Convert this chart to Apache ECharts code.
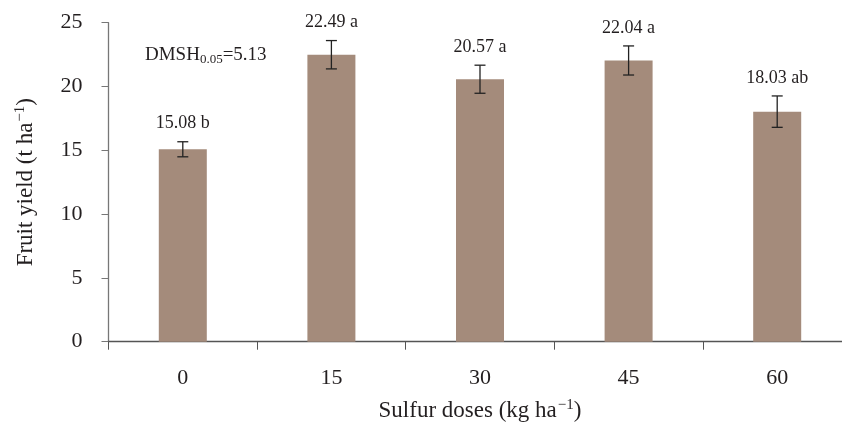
<!DOCTYPE html>
<html>
<head>
<meta charset="utf-8">
<script src="https://cdn.jsdelivr.net/npm/echarts@6/dist/echarts.min.js"></script>
<style>html,body{margin:0;padding:0;background:#fff;overflow:hidden}#c{width:842px;height:425px}</style>
</head>
<body>
<div id="c"></div>
<script>
const categories = ['0', '15', '30', '45', '60'];
const yieldValues = [15.08, 22.49, 20.57, 22.04, 18.03];
const errorValues = [0.59, 1.11, 1.1, 1.14, 1.23];
const letters = ['b', 'a', 'a', 'a', 'ab'];
const yTicks = [0, 5, 10, 15, 20, 25];

const FONT = '"Liberation Serif", "DejaVu Serif", serif';
const TXT = '#231f20';
const BAR = '#a48b7b';

const chart = echarts.init(document.getElementById('c'), null, {renderer: 'canvas'});
chart.setOption({
  animation: false,
  backgroundColor: '#fff',
  textStyle: {fontFamily: FONT, color: TXT},
  grid: {left: 108.5, top: 22.7, height: 319, width: 743, containLabel: false, outerBoundsMode: 'none'},
  xAxis: {
    type: 'category',
    data: categories,
    boundaryGap: true,
    axisLine: {lineStyle: {color: '#555', width: 1.3}},
    axisTick: {show: true, length: 8, alignWithLabel: false, lineStyle: {color: '#555', width: 1}},
    axisLabel: {fontFamily: FONT, fontSize: 22, color: TXT, margin: 26},
    name: 'Sulfur doses (kg ha{sup|\u22121})',
    nameLocation: 'middle',
    nameGap: 56,
    nameTextStyle: {
      fontFamily: FONT, fontSize: 23, color: TXT, lineHeight: 26,
      rich: {sup: {fontFamily: FONT, fontSize: 15, color: TXT, verticalAlign: 'top', lineHeight: 26, padding: [0, 0, 10, 1]}}
    }
  },
  yAxis: {
    type: 'value',
    min: yTicks[0],
    max: yTicks[yTicks.length - 1],
    interval: 5,
    splitLine: {show: false},
    axisLine: {show: true, lineStyle: {color: '#777', width: 1.3}},
    axisTick: {show: true, length: 7, lineStyle: {color: '#777', width: 1}},
    axisLabel: {fontFamily: FONT, fontSize: 22, color: TXT, margin: 26},
    name: 'Fruit yield (t ha{sup|\u22121})',
    nameLocation: 'middle',
    nameGap: 70,
    nameTextStyle: {
      fontFamily: FONT, fontSize: 23, color: TXT, lineHeight: 26,
      rich: {sup: {fontFamily: FONT, fontSize: 15, color: TXT, verticalAlign: 'top', lineHeight: 26, padding: [0, 0, 10, 1]}}
    }
  },
  graphic: [{
    type: 'text',
    left: 145,
    top: 44,
    style: {
      text: 'DMSH{sub|0.05}=5.13',
      fontFamily: FONT, fontSize: 19, fill: TXT, lineHeight: 22,
      rich: {sub: {fontFamily: FONT, fontSize: 13, fill: TXT, verticalAlign: 'bottom', lineHeight: 22, padding: [6, 0, 0, 0]}}
    }
  }],
  series: [
    {
      type: 'bar',
      data: yieldValues,
      barWidth: 48,
      itemStyle: {color: BAR},
      z: 2
    },
    {
      type: 'custom',
      z: 3,
      data: yieldValues.map((v, i) => [i, v, errorValues[i]]),
      renderItem: function (params, api) {
        const i = api.value(0), v = api.value(1), e = api.value(2);
        const hi = api.coord([i, v + e]);
        const lo = api.coord([i, v - e]);
        const cap = 5.5;
        const ls = {stroke: '#222', lineWidth: 1.3};
        return {
          type: 'group',
          children: [
            {type: 'line', shape: {x1: hi[0], y1: hi[1], x2: lo[0], y2: lo[1]}, style: ls},
            {type: 'line', shape: {x1: hi[0] - cap, y1: hi[1], x2: hi[0] + cap, y2: hi[1]}, style: ls},
            {type: 'line', shape: {x1: lo[0] - cap, y1: lo[1], x2: lo[0] + cap, y2: lo[1]}, style: ls},
            {type: 'text', x: hi[0], y: hi[1] - 18, style: {
              text: v.toFixed(2) + ' ' + letters[params.dataIndex],
              fontFamily: FONT, fontSize: 18, fill: TXT, align: 'center', verticalAlign: 'middle'
            }}
          ]
        };
      }
    }
  ]
});
</script>
</body>
</html>
